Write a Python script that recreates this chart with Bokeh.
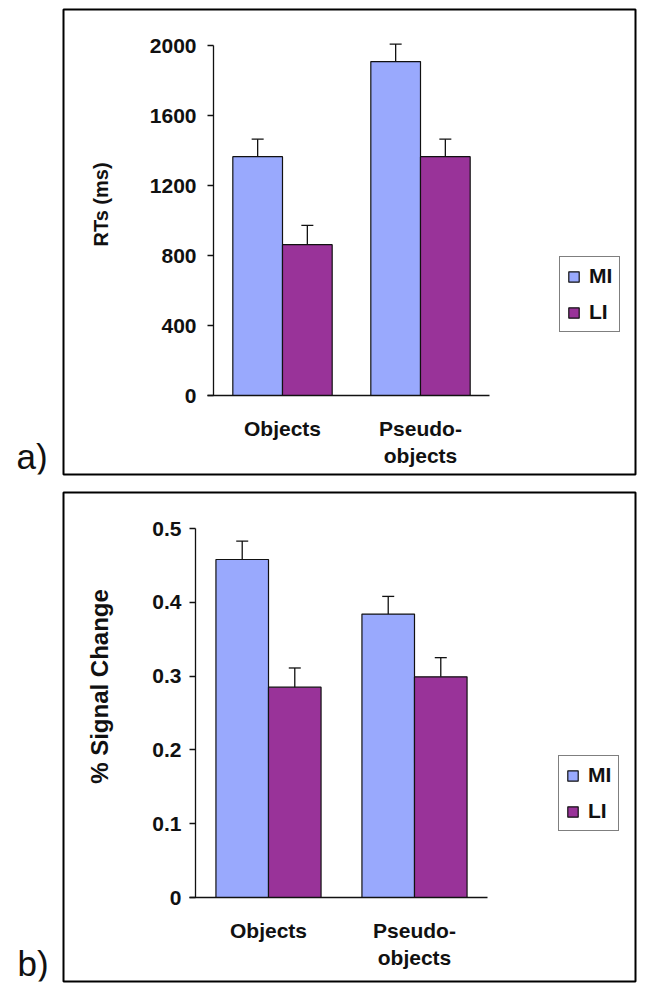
import math
from bokeh.plotting import figure
from bokeh.models import (ColumnDataSource, Whisker, TeeHead, Label, Legend,
                          LegendItem, FixedTicker, Range1d)
from bokeh.layouts import column, row
from bokeh.embed import file_html
from bokeh.resources import INLINE

# ---------------- data ----------------
categories = ["Objects", "Pseudo-\nobjects"]
series = ["MI", "LI"]

rt_mi = [1365, 1908]
rt_li = [862, 1365]
rt_mi_err = [100, 100]
rt_li_err = [110, 100]
rt_ticks = [0, 400, 800, 1200, 1600, 2000]

sig_mi = [0.458, 0.384]
sig_li = [0.285, 0.299]
sig_mi_err = [0.025, 0.024]
sig_li_err = [0.026, 0.026]
sig_ticks = [0, 0.1, 0.2, 0.3, 0.4, 0.5]

MI_COLOR = "#99A9FD"
LI_COLOR = "#993399"
INK = "#111111"
FONT = "Liberation Sans"

TAG_W = 62          # width of the left strip holding "a)" / "b)"
MAIN_W = 588        # main figure spans page x 62..650
FRAME_L, FRAME_R = 63, 635


def tag_fig(tag, H, baseline_from_bottom, x_left):
    t = figure(width=TAG_W, height=H, output_backend="svg", toolbar_location=None,
               min_border=0, x_range=Range1d(0, 1), y_range=Range1d(0, 1))
    t.axis.visible = False
    t.grid.visible = False
    t.outline_line_color = None
    t.background_fill_color = "white"
    t.border_fill_color = "white"
    t.add_layout(Label(x=x_left, y=baseline_from_bottom, x_units="screen", y_units="screen",
                       text=tag, text_font=FONT, text_font_size="35px", text_color=INK,
                       text_baseline="alphabetic", text_align="left"))
    return t


def build(mi, li, mi_err, li_err, ticks, ylabel, H, page_top,
          frame_top, frame_bot, y0_px, ytop_px, axis_px, cat_px,
          leg_left, leg_bottom, ylabel_cx, ylabel_cy, ylabel_size,
          tick_over=None, tick_standoff=10):
    unit = cat_px
    c0 = axis_px + cat_px / 2.0
    x_start = -(c0 - FRAME_L) / unit
    x_end = (FRAME_R - c0) / unit
    ymax = ticks[-1]
    ppu = (y0_px - ytop_px) / ymax
    y_start = -(frame_bot - y0_px) / ppu
    y_end = ymax + (ytop_px - frame_top) / ppu

    p = figure(width=MAIN_W, height=H, output_backend="svg", toolbar_location=None,
               x_range=Range1d(x_start, x_end), y_range=Range1d(y_start, y_end),
               min_border_left=FRAME_L - TAG_W, min_border_right=TAG_W + MAIN_W - FRAME_R,
               min_border_top=frame_top - page_top,
               min_border_bottom=page_top + H - frame_bot)
    p.grid.visible = False
    p.background_fill_color = "white"
    p.border_fill_color = "white"
    p.outline_line_color = "black"
    p.outline_line_width = 2

    bw = 0.36
    n = len(categories)
    xs_mi = [i - bw / 2 for i in range(n)]
    xs_li = [i + bw / 2 for i in range(n)]
    src_mi = ColumnDataSource(dict(x=xs_mi, top=mi, upper=[v + e for v, e in zip(mi, mi_err)]))
    src_li = ColumnDataSource(dict(x=xs_li, top=li, upper=[v + e for v, e in zip(li, li_err)]))

    r_mi = p.vbar(x="x", top="top", bottom=0, width=bw, source=src_mi,
                  fill_color=MI_COLOR, line_color=INK, line_width=1.2)
    r_li = p.vbar(x="x", top="top", bottom=0, width=bw, source=src_li,
                  fill_color=LI_COLOR, line_color=INK, line_width=1.2)

    for src in (src_mi, src_li):
        wk = Whisker(base="x", lower="top", upper="upper", source=src, dimension="height",
                     line_color=INK, line_width=1.3,
                     upper_head=TeeHead(size=12, line_color=INK, line_width=1.3),
                     lower_head=None, level="overlay")
        p.add_layout(wk)

    # y axis (fixed inside the boxed frame)
    ya = p.yaxis[0]
    ya.fixed_location = -0.5
    ya.bounds = (0, ymax)
    ya.ticker = FixedTicker(ticks=ticks)
    if tick_over:
        ya.major_label_overrides = tick_over
    ya.major_tick_out = 6
    ya.major_tick_in = 0
    ya.minor_tick_line_color = None
    ya.axis_line_color = INK
    ya.axis_line_width = 1.3
    ya.major_tick_line_color = INK
    ya.major_tick_line_width = 1.3
    ya.major_label_text_font = FONT
    ya.major_label_text_font_style = "bold"
    ya.major_label_text_font_size = "21px"
    ya.major_label_text_color = INK
    ya.major_label_standoff = tick_standoff

    # x axis
    xa = p.xaxis[0]
    xa.fixed_location = 0
    xa.bounds = (-0.5 - 6.0 / unit, n - 0.5)
    xa.ticker = FixedTicker(ticks=list(range(n)))
    xa.major_label_overrides = {i: c for i, c in enumerate(categories)}
    xa.major_tick_line_color = None
    xa.minor_tick_line_color = None
    xa.axis_line_color = INK
    xa.axis_line_width = 1.3
    xa.major_label_text_font = FONT
    xa.major_label_text_font_style = "bold"
    xa.major_label_text_font_size = "21px"
    xa.major_label_text_color = INK
    xa.major_label_text_line_height = 1.2
    xa.major_label_standoff = 15

    # y-axis title as a rotated label inside the boxed frame
    p.add_layout(Label(x=ylabel_cx - FRAME_L, y=frame_bot - ylabel_cy,
                       x_units="screen", y_units="screen", text=ylabel, angle=math.pi / 2,
                       text_font=FONT, text_font_style="bold", text_font_size=ylabel_size,
                       text_color=INK, text_align="center", text_baseline="middle"))

    legend = Legend(items=[LegendItem(label=series[0], renderers=[r_mi]),
                           LegendItem(label=series[1], renderers=[r_li])],
                    location=(leg_left - FRAME_L, frame_bot - leg_bottom),
                    label_text_font=FONT, label_text_font_style="bold",
                    label_text_font_size="21px", label_text_color=INK,
                    glyph_width=13, glyph_height=13, label_standoff=9,
                    padding=7, spacing=12, margin=0, label_height=22,
                    border_line_color="black", border_line_width=1.6,
                    background_fill_color="white", background_fill_alpha=1)
    p.add_layout(legend, "center")
    return p


H1 = 483
p1 = build(rt_mi, rt_li, rt_mi_err, rt_li_err, rt_ticks, "RTs (ms)",
           H=H1, page_top=0, frame_top=9, frame_bot=474, y0_px=395, ytop_px=45,
           axis_px=213, cat_px=138, leg_left=559, leg_bottom=332,
           ylabel_cx=100, ylabel_cy=204, ylabel_size="20px", tick_standoff=11)
t1 = tag_fig("a)", H1, H1 - 465, 16)

H2 = 505
p2 = build(sig_mi, sig_li, sig_mi_err, sig_li_err, sig_ticks, "% Signal Change",
           H=H2, page_top=H1, frame_top=492, frame_bot=981, y0_px=897, ytop_px=528,
           axis_px=195, cat_px=146, leg_left=558, leg_bottom=831,
           ylabel_cx=99, ylabel_cy=686, ylabel_size="24px",
           tick_over={0: "0"}, tick_standoff=8)
t2 = tag_fig("b)", H2, H1 + H2 - 970, 17)

layout = column(row(t1, p1, spacing=0), row(t2, p2, spacing=0), spacing=0)
open("out.html", "w").write(file_html(layout, INLINE))
